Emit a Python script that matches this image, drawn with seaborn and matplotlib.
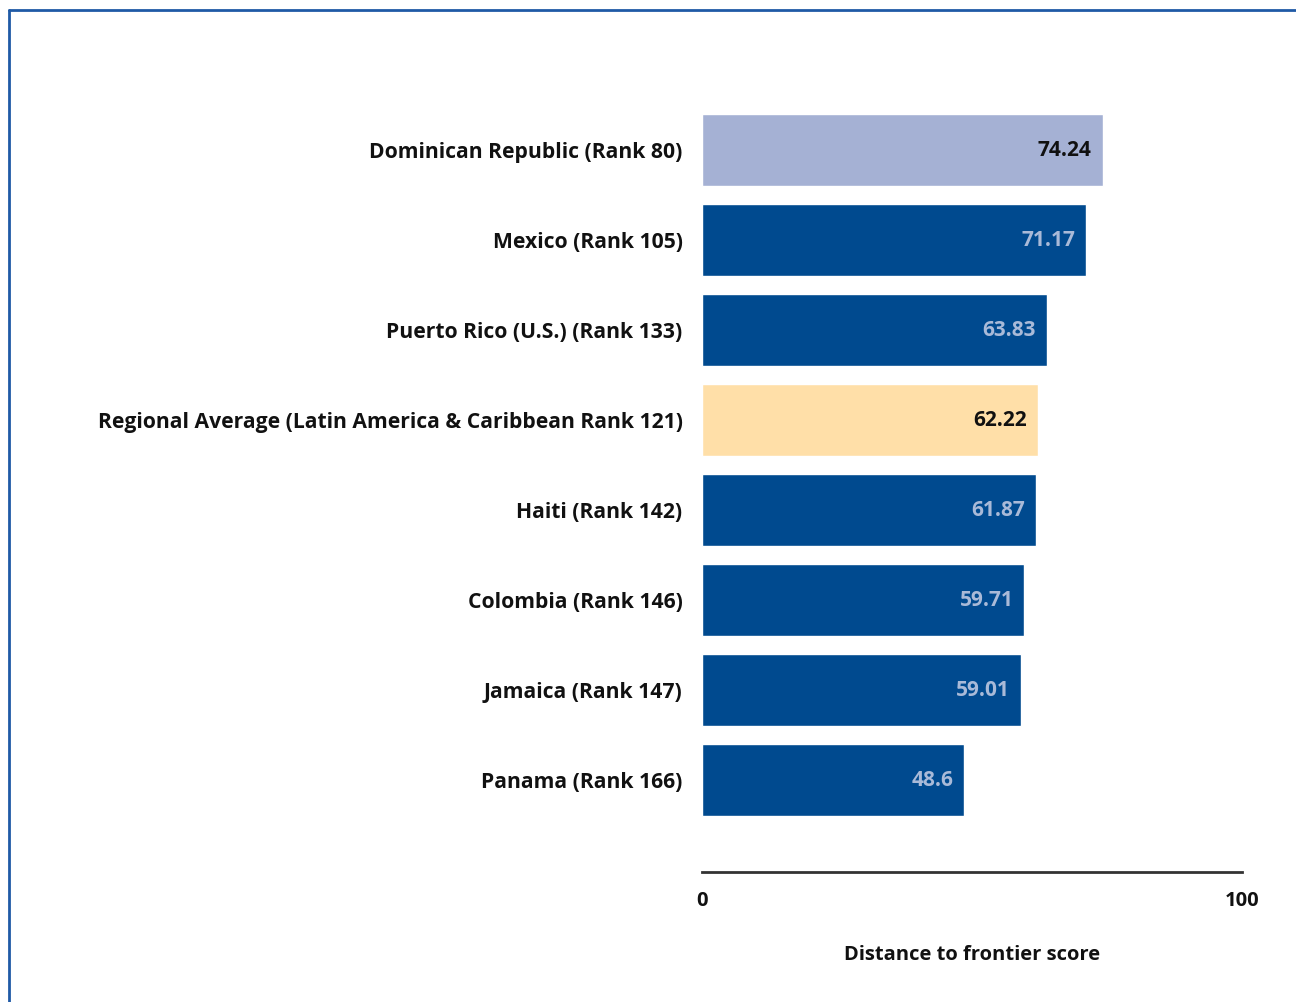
import matplotlib
matplotlib.use("Agg")
import matplotlib.pyplot as plt
import seaborn as sns
import pandas as pd
from matplotlib.lines import Line2D

categories = [
    "Dominican Republic (Rank 80)",
    "Mexico (Rank 105)",
    "Puerto Rico (U.S.) (Rank 133)",
    "Regional Average (Latin America & Caribbean Rank 121)",
    "Haiti (Rank 142)",
    "Colombia (Rank 146)",
    "Jamaica (Rank 147)",
    "Panama (Rank 166)",
]
values = [74.24, 71.17, 63.83, 62.22, 61.87, 59.71, 59.01, 48.6]
value_labels = ["74.24", "71.17", "63.83", "62.22", "61.87", "59.71", "59.01", "48.6"]
bar_colors = ["#A5B1D4", "#004A8F", "#004A8F", "#FFDFA8", "#004A8F", "#004A8F", "#004A8F", "#004A8F"]
label_colors = ["#111111", "#A9BAD8", "#A9BAD8", "#111111", "#A9BAD8", "#A9BAD8", "#A9BAD8", "#A9BAD8"]
x_ticks = [0, 100]
x_label = "Distance to frontier score"

sns.set_theme(style="white")
plt.rcParams['font.family'] = ['Open Sans', 'DejaVu Sans']

df = pd.DataFrame({"category": categories, "value": values})

fig = plt.figure(figsize=(12.96, 10.02), dpi=100)
ax = fig.add_axes([702/1296, 1-872/1002, 540/1296, (872-105)/1002])

sns.barplot(data=df, y="category", x="value", hue="category", palette=bar_colors,
            order=categories, hue_order=categories, orient="h", width=0.8,
            legend=False, ax=ax, saturation=1)

ax.set_xlim(0, 100)
ax.set_ylim(7 + 92/90, -0.5)

FS = 14.5
for i, (v, lab, c) in enumerate(zip(values, value_labels, label_colors)):
    ax.annotate(lab, xy=(v, i), xytext=(-8, 0), textcoords="offset points",
                ha="right", va="center", color=c, fontsize=15, fontweight="bold")

ax.set_yticks(range(len(categories)))
ax.set_yticklabels(categories, fontsize=15.2, fontweight="bold", color="#111111")
ax.tick_params(axis="y", length=0, pad=14)
ax.set_xticks(x_ticks)
ax.set_xticklabels([str(t) for t in x_ticks], fontsize=FS, fontweight="bold", color="#111111")
ax.tick_params(axis="x", length=0, pad=14)
ax.set_ylabel("")
ax.set_xlabel(x_label, fontsize=FS, fontweight="bold", color="#111111", labelpad=24)

for s in ["top", "right", "left"]:
    ax.spines[s].set_visible(False)
ax.spines["bottom"].set_color("#333333")
ax.spines["bottom"].set_linewidth(2)

# outer frame (left and top edges)
fig.add_artist(Line2D([9/1296, 9/1296], [0, 1-10/1002], transform=fig.transFigure,
                      color="#1F5AA6", lw=2))
fig.add_artist(Line2D([9/1296, 1], [1-10/1002, 1-10/1002], transform=fig.transFigure,
                      color="#1F5AA6", lw=2))

fig.savefig("out.png", dpi=100)
